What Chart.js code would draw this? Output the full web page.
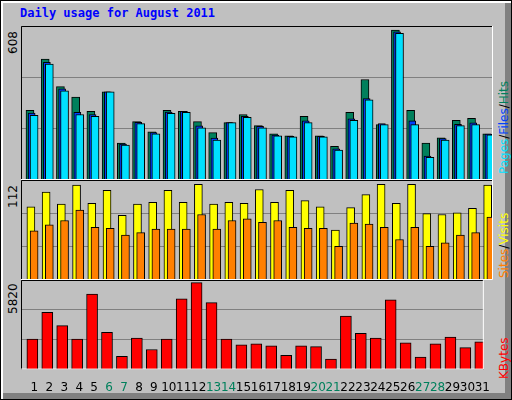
<!DOCTYPE html>
<html>
<head>
<meta charset="utf-8">
<script src="https://cdn.jsdelivr.net/npm/chart.js@4"></script>
<style>
  body { margin: 0; background: #fff; }
  #frame { position: relative; width: 512px; height: 400px; background: #c0c0c0; box-sizing: border-box;
    border: 1px solid #000; box-shadow: inset 2px 2px 0 #fff, inset -6px -6px 0 #808080; overflow: hidden; }
  #title { position: absolute; left: 19px; top: 5px; font: bold 12px "DejaVu Sans Mono", monospace; color: #0000ff; }
  canvas { position: absolute; }
  .vlab { position: absolute; font: 12px "DejaVu Sans", sans-serif; transform-origin: left top; transform: rotate(-90deg); white-space: nowrap; }
</style>
</head>
<body>
<div id="frame">
  <div id="title">Daily usage for August 2011</div>
  <canvas id="c1" style="left:20px;top:25px;width:472px;height:154px"></canvas>
  <canvas id="c2" style="left:20px;top:179px;width:472px;height:100px"></canvas>
  <canvas id="c3" style="left:20px;top:279px;width:472px;height:118px"></canvas>
  <div class="vlab" style="left:5px;top:53px">608</div>
  <div class="vlab" style="left:5px;top:207px">112</div>
  <div class="vlab" style="left:5px;top:313px">5820</div>
  <div class="vlab" style="left:496px;top:173px"><span style="color:#00e0ff">Pages</span>/<span style="color:#0040ff">Files</span>/<span style="color:#00805c">Hits</span></div>
  <div class="vlab" style="left:496px;top:277px"><span style="color:#ff8000">Sites</span>/<span style="color:#ffff00">Visits</span></div>
  <div class="vlab" style="left:496px;top:378px"><span style="color:#ff0000">KBytes</span></div>
</div>
<script>
const days = Array.from({ length: 31 }, (_, i) => String(i + 1));
const weekends = ['6', '7', '13', '14', '20', '21', '27', '28'];

const hits = [283, 491, 379, 337, 279, 358, 150, 237, 196, 283, 279, 237, 192, 233, 266, 221, 187, 179, 258, 179, 137, 275, 408, 225, 608, 283, 150, 171, 242, 250, 187];
const files = [272, 478, 370, 275, 266, 358, 146, 234, 192, 276, 279, 220, 170, 233, 258, 218, 182, 177, 240, 177, 126, 248, 330, 229, 601, 240, 97, 168, 226, 232, 186];
const pages = [262, 470, 362, 266, 258, 358, 142, 229, 187, 271, 275, 212, 162, 233, 254, 212, 179, 175, 233, 175, 121, 242, 325, 225, 595, 225, 92, 162, 221, 225, 183];
const visits = [85, 102, 88, 110, 89, 104, 75, 88, 90, 104, 90, 111, 88, 90, 89, 105, 90, 104, 92, 85, 58, 84, 99, 111, 89, 111, 77, 76, 78, 83, 110];
const sites = [57, 64, 69, 81, 61, 60, 52, 55, 59, 59, 59, 76, 59, 69, 71, 67, 69, 61, 60, 60, 39, 66, 65, 61, 47, 61, 39, 43, 52, 55, 73];
const kbytes = [2048, 3840, 2944, 2048, 5056, 2496, 896, 2112, 1344, 2048, 4736, 5820, 4480, 2048, 1664, 1728, 1600, 960, 1600, 1536, 704, 3584, 2432, 2112, 4672, 1792, 832, 1728, 2176, 1472, 1856];

const panelBorder = {
  id: 'panelBorder',
  afterDraw(chart) {
    const { ctx, chartArea: a } = chart;
    ctx.save();
    ctx.lineWidth = 1;
    ctx.strokeStyle = '#000';
    ctx.beginPath();
    ctx.moveTo(a.left + 0.5, a.bottom); ctx.lineTo(a.left + 0.5, a.top + 0.5); ctx.lineTo(a.right, a.top + 0.5);
    ctx.stroke();
    ctx.strokeStyle = '#fff';
    ctx.beginPath();
    ctx.moveTo(a.right - 0.5, a.top); ctx.lineTo(a.right - 0.5, a.bottom - 0.5); ctx.lineTo(a.left, a.bottom - 0.5);
    ctx.stroke();
    ctx.restore();
  },
};

// later datasets get a lower order, so they are drawn in front
function series(values, offset, color, width, order) {
  return {
    data: values.map((v, i) => ({ x: i + 1 + offset, y: v })),
    backgroundColor: color,
    borderColor: '#000',
    borderWidth: 1,
    barThickness: width,
    grouped: false,
    order,
  };
}

function makeChart(id, datasets, max, showLabels) {
  new Chart(document.getElementById(id), {
    type: 'bar',
    data: { datasets },
    plugins: [panelBorder],
    options: {
      responsive: false,
      animation: false,
      layout: { padding: 0 },
      plugins: { legend: { display: false }, tooltip: { enabled: false } },
      scales: {
        x: {
          type: 'linear', min: 0.5, max: 31.5, offset: false,
          grid: { display: false }, border: { display: false },
          display: showLabels,
          afterBuildTicks: (s) => { s.ticks = days.map((d, i) => ({ value: i + 1.4 })); },
          ticks: {
            padding: 3, autoSkip: false, maxRotation: 0,
            font: { family: 'DejaVu Sans', size: 12 },
            color: (c) => weekends.includes(String(Math.round(c.tick.value))) ? '#00805c' : '#000',
            callback: (v) => days[Math.round(v) - 1] || '',
          },
        },
        y: {
          min: 0, max, display: true,
          border: { display: false },
          grid: { color: '#808080', drawTicks: false },
          ticks: { display: false, stepSize: max / 3 },
          afterFit: (s) => { s.width = 0; },
        },
      },
    },
  });
}

function sizeCanvas(id) {
  const c = document.getElementById(id);
  c.width = parseInt(c.style.width); c.height = parseInt(c.style.height);
}
['c1', 'c2', 'c3'].forEach(sizeCanvas);

makeChart('c1', [
  series(hits, 0.09, '#00805c', 8, 3),
  series(files, 0.2, '#0040ff', 7, 2),
  series(pages, 0.36, '#00e0ff', 8, 1),
], 625, false);
makeChart('c2', [
  series(visits, 0.15, '#ffff00', 8, 2),
  series(sites, 0.36, '#ff8000', 8, 1),
], 116, false);
makeChart('c3', [
  series(kbytes, 0.26, '#ff0000', 11, 1),
], 6000, true);
</script>
</body>
</html>
